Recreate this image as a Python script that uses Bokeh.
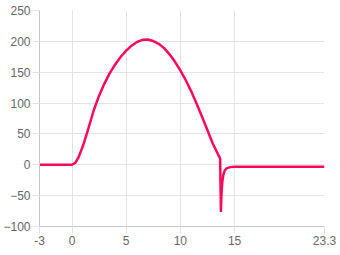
from bokeh.plotting import figure
from bokeh.models import FixedTicker, Range1d, ColumnDataSource
from bokeh.embed import file_html
from bokeh.resources import INLINE

# data
x_values = [-3, -2, -1, 0, 0.3, 0.6, 1, 1.5, 2, 2.5, 3, 3.5, 4, 4.5, 5, 5.5, 6, 6.5,
            7, 7.5, 8, 8.5, 9, 9.5, 10, 10.5, 11, 11.5, 12, 12.5, 13, 13.67, 13.74,
            13.8, 13.87, 13.97, 14.1, 14.3, 14.6, 15, 17, 19, 21, 23.3]
y_values = [0, 0, 0, 0, 3, 12, 30, 58, 88, 112, 132, 149, 163, 175, 185, 193, 199, 202.5,
            203, 200.5, 196, 189, 179, 167, 153, 137, 119, 99, 78, 56, 34, 10, -75,
            -45, -28, -16, -9, -5.5, -3.8, -3, -3, -3, -3, -3]
x_ticks = [-3, 0, 5, 10, 15, 23.3]
x_tick_labels = ["-3", "0", "5", "10", "15", "23.3"]
y_ticks = [-100, -50, 0, 50, 100, 150, 200, 250]

src = ColumnDataSource(dict(x=x_values, y=y_values))

p = figure(width=340, height=255, output_backend="svg", toolbar_location=None,
           x_range=Range1d(-3, 23.3), y_range=Range1d(-100, 250),
           min_border_left=39, min_border_right=16, min_border_top=10, min_border_bottom=29)
p.outline_line_color = None
p.background_fill_color = "white"
p.border_fill_color = "white"

p.line("x", "y", source=src, line_color="#fb0a5b", line_width=2.5, line_join="round")

grid_col = "#e3e3e3"
for ax in (p.xaxis[0], p.yaxis[0]):
    ax.axis_line_color = "#c8c8c8"
    ax.major_tick_line_color = grid_col
    ax.major_tick_out = 7
    ax.major_tick_in = 0
    ax.minor_tick_line_color = None
    ax.major_label_text_font = "Liberation Sans"
    ax.major_label_text_font_size = "12px"
    ax.major_label_text_color = "#666666"
    ax.major_label_standoff = 2

p.xaxis.ticker = FixedTicker(ticks=x_ticks)
p.xaxis.major_label_overrides = {t: l for t, l in zip(x_ticks, x_tick_labels)}
p.yaxis.ticker = FixedTicker(ticks=y_ticks)

p.xgrid.grid_line_color = grid_col
p.ygrid.grid_line_color = grid_col

open("out.html", "w").write(file_html(p, INLINE))
